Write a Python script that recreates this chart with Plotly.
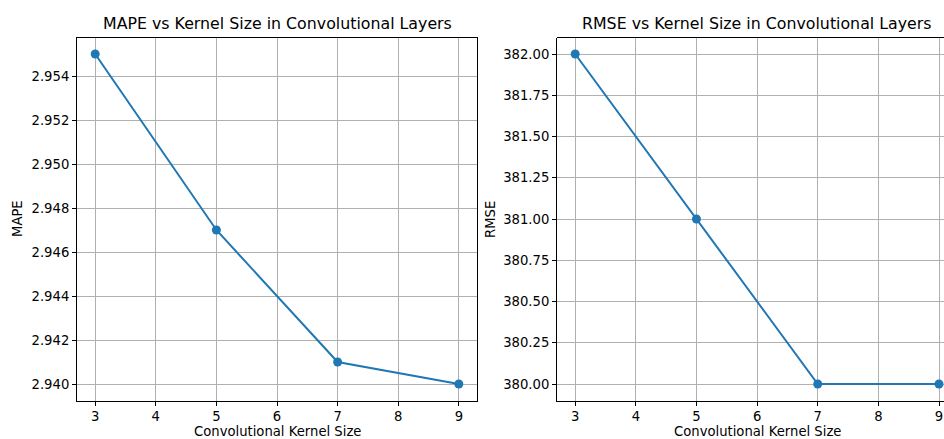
import plotly.graph_objects as go

kernel_sizes = [3, 5, 7, 9]
mape_values = [2.955, 2.947, 2.941, 2.940]
rmse_values = [382.00, 381.00, 380.00, 380.00]

W, H = 944, 439
BLUE = "#1f77b4"
FONT = "DejaVu Sans"

def fx(px):
    return px / W

def fy(py):
    return 1 - py / H

fig = go.Figure()

fig.add_trace(go.Scatter(x=kernel_sizes, y=mape_values, mode="lines+markers",
                         line=dict(color=BLUE, width=2), marker=dict(size=9, color=BLUE),
                         xaxis="x", yaxis="y", showlegend=False))
fig.add_trace(go.Scatter(x=kernel_sizes, y=rmse_values, mode="lines+markers",
                         line=dict(color=BLUE, width=2), marker=dict(size=9, color=BLUE),
                         xaxis="x2", yaxis="y2", showlegend=False, cliponaxis=False))

ydom = [fy(400.5), fy(37.5)]
common = dict(showgrid=True, gridcolor="#b0b0b0", gridwidth=1.1, showline=True,
              linecolor="black", linewidth=1.1, ticks="outside", ticklen=4,
              tickcolor="black", tickwidth=1.1, zeroline=False,
              tickfont=dict(family=FONT, size=13.2, color="black"), automargin=False)

fig.update_layout(
    width=W, height=H,
    margin=dict(l=0, r=0, t=0, b=0),
    paper_bgcolor="white", plot_bgcolor="white",
    xaxis=dict(domain=[fx(77), fx(477)], range=[2.7, 9.3], tickvals=[3, 4, 5, 6, 7, 8, 9],
               mirror=True, anchor="y", **common),
    yaxis=dict(domain=ydom, range=[2.93925, 2.95575], tickvals=[2.940, 2.942, 2.944, 2.946, 2.948, 2.950, 2.952, 2.954],
               tickformat=".3f", mirror=True, anchor="x", **common),
    xaxis2=dict(domain=[fx(557), 1.0], range=[2.7, 9.0 + 5 / 60.67], tickvals=[3, 4, 5, 6, 7, 8, 9],
                mirror=False, anchor="y2", **common),
    yaxis2=dict(domain=ydom, range=[379.9, 382.1], tickvals=[380.0, 380.25, 380.5, 380.75, 381.0, 381.25, 381.5, 381.75, 382.0],
                tickformat=".2f", mirror=False, anchor="x2", **common),
    shapes=[
        dict(type="line", xref="x2 domain", yref="y2 domain", x0=0, x1=1, y0=1, y1=1,
             line=dict(color="black", width=1.1)),
    ],
)

ann = [
    dict(text="MAPE vs Kernel Size in Convolutional Layers", x=fx(277), y=fy(24), font=dict(size=15.8)),
    dict(text="RMSE vs Kernel Size in Convolutional Layers", x=fx(757), y=fy(24), font=dict(size=15.8)),
    dict(text="Convolutional Kernel Size", x=fx(277), y=fy(431.5), font=dict(size=13.2)),
    dict(text="Convolutional Kernel Size", x=fx(757), y=fy(431.5), font=dict(size=13.2)),
    dict(text="MAPE", x=fx(17), y=fy(219), textangle=-90, font=dict(size=13.2)),
    dict(text="RMSE", x=fx(490), y=fy(219), textangle=-90, font=dict(size=13.2)),
]
for a in ann:
    a["font"].update(family=FONT, color="black")
    fig.add_annotation(xref="paper", yref="paper", showarrow=False,
                       xanchor="center", yanchor="middle", **a)

fig.write_html("out.html", config={"displayModeBar": False},
               post_script="document.body.style.margin='0';document.body.style.overflow='hidden';")
